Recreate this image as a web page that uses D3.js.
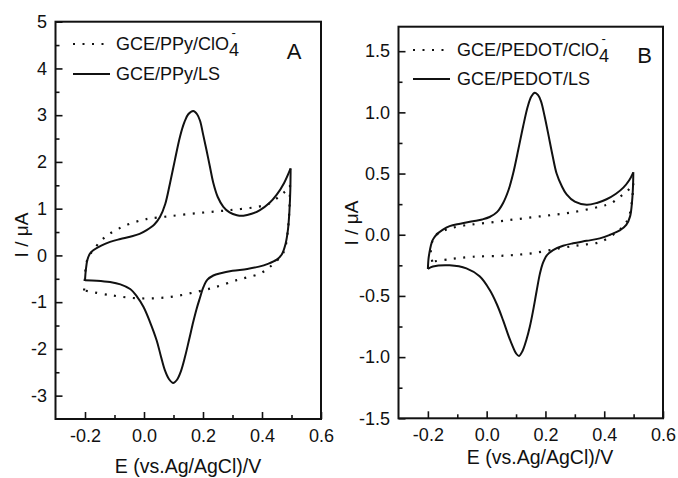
<!DOCTYPE html>
<html>
<head>
<meta charset="utf-8">
<script src="https://cdn.jsdelivr.net/npm/d3@7"></script>
<style>
  html, body { margin: 0; padding: 0; background: #fff; }
  svg { display: block; }
  text { font-family: "Liberation Sans", Arial, sans-serif; fill: #111; }
</style>
</head>
<body>
<svg id="chart" width="678" height="478"></svg>
<script>
// ---------- Data (E in V, I in µA) ----------
// Panel A – GCE/PPy/LS (solid)
const ppyLSForward = [[-0.200,-0.53],[-0.197,-0.30],[-0.192,-0.10],[-0.183,0.04],[-0.172,0.11],[-0.145,0.21],[-0.115,0.29],[-0.080,0.35],[-0.047,0.40],[-0.015,0.46],[0.009,0.54],[0.035,0.66],[0.054,0.82],[0.072,1.10],[0.088,1.54],[0.105,2.05],[0.122,2.54],[0.137,2.85],[0.150,3.02],[0.167,3.09],[0.180,3.02],[0.190,2.88],[0.200,2.60],[0.212,2.25],[0.224,1.88],[0.235,1.55],[0.250,1.25],[0.269,1.04],[0.290,0.92],[0.315,0.86],[0.337,0.85],[0.365,0.89],[0.393,0.97],[0.425,1.12],[0.450,1.30],[0.475,1.55],[0.497,1.86]];
const ppyLSReverse = [[0.497,1.86],[0.496,1.40],[0.493,0.95],[0.488,0.55],[0.480,0.25],[0.467,0.02],[0.450,-0.09],[0.420,-0.18],[0.390,-0.24],[0.350,-0.29],[0.300,-0.33],[0.260,-0.38],[0.235,-0.43],[0.215,-0.52],[0.200,-0.70],[0.190,-0.90],[0.178,-1.15],[0.167,-1.42],[0.153,-1.80],[0.139,-2.17],[0.125,-2.48],[0.112,-2.66],[0.099,-2.73],[0.085,-2.65],[0.071,-2.46],[0.057,-2.15],[0.043,-1.82],[0.020,-1.42],[-0.002,-1.10],[-0.025,-0.87],[-0.047,-0.72],[-0.080,-0.62],[-0.115,-0.57],[-0.160,-0.54],[-0.200,-0.53]];
// Panel A – GCE/PPy/ClO4- (dotted)
const ppyClO4Forward = [[-0.203,-0.75],[-0.200,-0.45],[-0.195,-0.15],[-0.185,0.00],[-0.172,0.11],[-0.145,0.32],[-0.115,0.47],[-0.080,0.59],[-0.047,0.68],[-0.010,0.75],[0.020,0.79],[0.088,0.84],[0.190,0.91],[0.292,0.97],[0.393,1.05],[0.430,1.13],[0.460,1.27],[0.480,1.38],[0.495,1.50]];
const ppyClO4Reverse = [[0.495,1.50],[0.493,1.00],[0.487,0.50],[0.478,0.15],[0.467,0.00],[0.440,-0.17],[0.420,-0.28],[0.393,-0.39],[0.350,-0.47],[0.314,-0.53],[0.246,-0.67],[0.178,-0.78],[0.088,-0.89],[-0.014,-0.92],[-0.115,-0.85],[-0.203,-0.75]];
// Panel B – GCE/PEDOT/LS (solid)
const pedotLSForward = [[-0.200,-0.28],[-0.198,-0.20],[-0.195,-0.15],[-0.190,-0.09],[-0.183,-0.04],[-0.171,0.00],[-0.150,0.04],[-0.126,0.07],[-0.090,0.09],[-0.047,0.11],[-0.015,0.125],[0.010,0.145],[0.035,0.185],[0.056,0.26],[0.075,0.37],[0.090,0.50],[0.108,0.70],[0.124,0.885],[0.140,1.05],[0.152,1.13],[0.164,1.16],[0.175,1.14],[0.185,1.09],[0.197,0.97],[0.209,0.83],[0.224,0.65],[0.238,0.50],[0.255,0.40],[0.272,0.33],[0.300,0.27],[0.340,0.245],[0.375,0.26],[0.408,0.29],[0.440,0.335],[0.465,0.385],[0.485,0.445],[0.499,0.51]];
const pedotLSReverse = [[0.499,0.51],[0.498,0.40],[0.495,0.28],[0.488,0.15],[0.475,0.08],[0.453,0.035],[0.420,0.00],[0.385,-0.03],[0.340,-0.05],[0.294,-0.07],[0.260,-0.09],[0.226,-0.125],[0.204,-0.17],[0.190,-0.24],[0.181,-0.32],[0.170,-0.46],[0.158,-0.62],[0.147,-0.75],[0.135,-0.86],[0.122,-0.95],[0.110,-0.99],[0.100,-0.97],[0.090,-0.92],[0.075,-0.83],[0.056,-0.70],[0.035,-0.57],[0.010,-0.45],[-0.024,-0.34],[-0.069,-0.275],[-0.126,-0.25],[-0.183,-0.26],[-0.200,-0.28]];
// Panel B – GCE/PEDOT/ClO4- (dotted)
const pedotClO4Forward = [[-0.185,-0.22],[-0.190,-0.15],[-0.187,-0.07],[-0.178,-0.02],[-0.166,0.01],[-0.126,0.05],[-0.080,0.075],[-0.024,0.09],[0.078,0.12],[0.181,0.15],[0.283,0.18],[0.385,0.23],[0.425,0.26],[0.453,0.31],[0.480,0.36],[0.499,0.42]];
const pedotClO4Reverse = [[0.499,0.42],[0.496,0.31],[0.488,0.18],[0.475,0.10],[0.465,0.07],[0.442,0.02],[0.385,-0.06],[0.317,-0.085],[0.249,-0.11],[0.158,-0.15],[0.067,-0.17],[-0.047,-0.18],[-0.126,-0.20],[-0.185,-0.22]];

// Tick values
const xTicks = [-0.2, 0.0, 0.2, 0.4, 0.6];
const xMinorTicks = [-0.1, 0.1, 0.3, 0.5];
const yTicksA = [-3, -2, -1, 0, 1, 2, 3, 4, 5];
const yMinorTicksA = [-2.5, -1.5, -0.5, 0.5, 1.5, 2.5, 3.5, 4.5];
const yTicksB = [-1.5, -1.0, -0.5, 0.0, 0.5, 1.0, 1.5];
const yMinorTicksB = [-1.25, -0.75, -0.25, 0.25, 0.75, 1.25];

// Labels
const legendA = ["GCE/PPy/ClO", "GCE/PPy/LS"];
const legendB = ["GCE/PEDOT/ClO", "GCE/PEDOT/LS"];
const xLabel = "E (vs.Ag/AgCl)/V";
const yLabel = "I / \u03bcA";

// ---------- Drawing ----------
const svg = d3.select("#chart");
const FONT = 18;

function panel(cfg) {
  const x = d3.scaleLinear().domain([-0.3, 0.6]).range([cfg.left, cfg.right]);
  const y = d3.scaleLinear().domain(cfg.yDomain).range([cfg.bottom, cfg.top]);
  const g = svg.append("g");
  const fx = d => d.toFixed(1);

  // minor ticks
  g.append("g").attr("transform", `translate(0,${cfg.bottom})`)
    .call(d3.axisBottom(x).tickValues(xMinorTicks).tickSize(-4).tickFormat(""))
    .call(s => s.select(".domain").remove());
  g.append("g").attr("transform", `translate(${cfg.left},0)`)
    .call(d3.axisLeft(y).tickValues(cfg.yMinor).tickSize(-4).tickFormat(""))
    .call(s => s.select(".domain").remove());
  // major ticks
  g.append("g").attr("transform", `translate(0,${cfg.bottom})`)
    .call(d3.axisBottom(x).tickValues(xTicks).tickSize(-7).tickPadding(10).tickFormat(fx))
    .call(s => s.select(".domain").remove());
  g.append("g").attr("transform", `translate(${cfg.left},0)`)
    .call(d3.axisLeft(y).tickValues(cfg.yTicks).tickSize(-7).tickPadding(8.5).tickFormat(cfg.yFmt))
    .call(s => s.select(".domain").remove());
  g.selectAll(".tick line").attr("stroke", "#111").attr("stroke-width", 1.6);
  g.selectAll(".tick text").attr("font-size", FONT).attr("font-family", "Liberation Sans, Arial, sans-serif").attr("fill", "#111");

  // frame
  g.append("rect").attr("x", cfg.left).attr("y", cfg.top)
    .attr("width", cfg.right - cfg.left).attr("height", cfg.bottom - cfg.top)
    .attr("fill", "none").attr("stroke", "#111").attr("stroke-width", 2);

  const line = d3.line().x(d => x(d[0])).y(d => y(d[1])).curve(d3.curveCatmullRom.alpha(0.5));
  cfg.dotted.forEach(seg => g.append("path").attr("d", line(seg)).attr("fill", "none")
    .attr("stroke", "#111").attr("stroke-width", 2.2).attr("stroke-dasharray", "2,7.5"));
  cfg.solid.forEach(seg => g.append("path").attr("d", line(seg)).attr("fill", "none")
    .attr("stroke", "#111").attr("stroke-width", 2).attr("stroke-linejoin", "miter"));

  // legend
  const lg = cfg.legend;
  g.append("line").attr("x1", lg.x0).attr("x2", lg.x1).attr("y1", lg.y1).attr("y2", lg.y1)
    .attr("stroke", "#111").attr("stroke-width", 2.2).attr("stroke-dasharray", "2,7.5");
  g.append("line").attr("x1", lg.x0).attr("x2", lg.x1 + 3).attr("y1", lg.y2).attr("y2", lg.y2)
    .attr("stroke", "#111").attr("stroke-width", 2);
  const t1 = g.append("text").attr("x", lg.tx).attr("y", lg.y1 + 6).attr("font-size", FONT);
  t1.append("tspan").text(cfg.legendText[0]);
  t1.append("tspan").attr("dy", 6).text("4");
  t1.append("tspan").attr("dx", -7.5).attr("dy", -19.5).attr("font-size", 13).text("-");
  g.append("text").attr("x", lg.tx).attr("y", lg.y2 + 5.5).attr("font-size", FONT).text(cfg.legendText[1]);

  // panel letter
  g.append("text").attr("x", cfg.letterX).attr("y", cfg.letterY).attr("font-size", 22)
    .attr("text-anchor", "middle").text(cfg.letter);

  // axis titles
  g.append("text").attr("x", cfg.xLabelX).attr("y", cfg.xLabelY).attr("font-size", 19.5)
    .attr("text-anchor", "middle").text(xLabel);
  g.append("text").attr("transform", `translate(${cfg.yLabelX},${cfg.yLabelY}) rotate(-90)`)
    .attr("font-size", 19).attr("text-anchor", "middle").attr("dy", "0.35em").text(yLabel);
}

panel({
  left: 55.5, right: 321, top: 21.7, bottom: 419,
  yDomain: [-3.5, 5], yTicks: yTicksA, yMinor: yMinorTicksA, yFmt: d => String(d),
  solid: [ppyLSForward, ppyLSReverse], dotted: [ppyClO4Forward, ppyClO4Reverse],
  legend: { x0: 73, x1: 107, y1: 44, y2: 74, tx: 116 }, legendText: legendA,
  letter: "A", letterX: 294, letterY: 59,
  xLabelX: 188, xLabelY: 473, yLabelX: 21, yLabelY: 235
});
panel({
  left: 398.5, right: 663, top: 26.7, bottom: 418.3,
  yDomain: [-1.5, 1.7], yTicks: yTicksB, yMinor: yMinorTicksB, yFmt: d => d.toFixed(1),
  solid: [pedotLSForward, pedotLSReverse], dotted: [pedotClO4Forward, pedotClO4Reverse],
  legend: { x0: 413, x1: 447, y1: 50, y2: 79, tx: 457 }, legendText: legendB,
  letter: "B", letterX: 644.5, letterY: 63,
  xLabelX: 540, xLabelY: 464, yLabelX: 351, yLabelY: 223
});
</script>
</body>
</html>
